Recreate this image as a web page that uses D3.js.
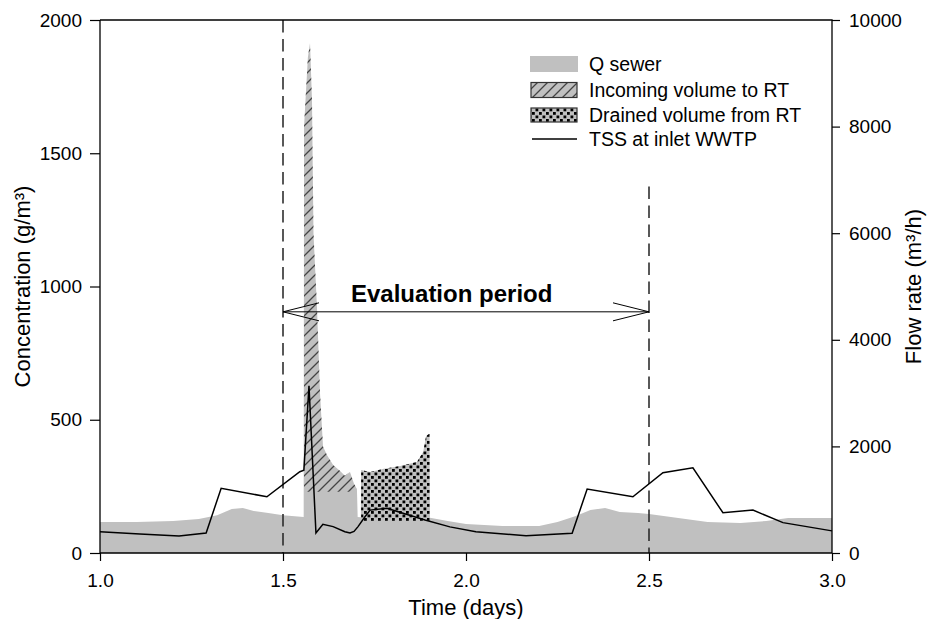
<!DOCTYPE html>
<html><head><meta charset="utf-8">
<script src="https://cdn.jsdelivr.net/npm/d3@7"></script>
<style>
body{margin:0;background:#fff}
text{font-family:"Liberation Sans",Arial,sans-serif;fill:#000}
</style>
</head><body>
<svg id="c" width="928" height="619"></svg>
<script>
// ---------- data ----------
const qSewerDays = [1.000,1.100,1.200,1.270,1.320,1.360,1.390,1.420,1.460,1.500,1.5565,
  1.5575,1.568,1.5738,1.5792,1.5833,1.5874,1.5929,1.6011,1.6093,1.620,1.637,1.656,1.669,1.683,1.694,1.702,
  1.704,1.7125,1.7135,1.738,1.773,1.820,1.866,1.883,1.891,1.899,1.9005,1.9015,
  1.950,2.000,2.100,2.200,2.250,2.300,2.340,2.380,2.420,2.470,2.500,2.580,2.660,2.750,2.820,2.880,3.000];
const qSewerFlow = [580,580,600,640,710,825,845,790,750,710,675,
  8000,9300,9570,8500,6000,5400,4600,3000,2000,1840,1650,1540,1450,1520,1300,1200,
  675,670,1557,1520,1576,1632,1707,1895,2195,2232,2232,660,
  600,545,505,505,580,695,805,845,770,750,730,655,580,565,600,655,655];

const incomingDays = [1.5575,1.568,1.5738,1.5792,1.5833,1.5874,1.5929,1.6011,1.6093,1.620,1.637,1.656,1.669,1.683,1.694,1.702];
const incomingFlow = [8000,9300,9570,8500,6000,5400,4600,3000,2000,1840,1650,1540,1450,1520,1300,1200];
const incomingBase = [1150,1150,1150,1150,1150,1150,1150,1150,1150,1150,1150,1150,1150,1150,1150,1150];

const drainedDays = [1.7135,1.738,1.773,1.820,1.866,1.883,1.891,1.899,1.9005];
const drainedFlow = [1557,1520,1576,1632,1707,1895,2195,2232,2232];
const drainedBase = [600,600,600,600,600,600,600,600,600];

const tssDays = [1.000,1.109,1.216,1.290,1.331,1.456,1.546,1.557,1.571,1.590,1.609,1.637,1.669,1.683,1.694,1.705,
  1.724,1.738,1.784,1.828,1.888,1.956,2.027,2.164,2.290,2.331,2.456,2.538,2.620,2.702,2.784,2.866,3.000];
const tssConc = [80,71,64,75,243,211,305,311,627,75,108,99,80,75,81,99,
  136,161,168,149,124,98,80,65,74,240,211,301,320,151,161,114,83];

const xTicks = [1.0,1.5,2.0,2.5,3.0];
const concTicks = [0,500,1000,1500,2000];
const flowTicks = [0,2000,4000,6000,8000,10000];
const evalPeriod = [1.5,2.5];
const evalLabel = "Evaluation period";
const legendLabels = ["Q sewer","Incoming volume to RT","Drained volume from RT","TSS at inlet WWTP"];

// ---------- layout ----------
const L = 100, R = 832, T = 20, B = 553;
const svg = d3.select("#c");
const x = d3.scaleLinear().domain([1,3]).range([L,R]);
const yC = d3.scaleLinear().domain([0,2000]).range([B,T]);
const yQ = d3.scaleLinear().domain([0,10000]).range([B,T]);
const GRAY = "#c0c0c0";

const defs = svg.append("defs");
const hp = defs.append("pattern").attr("id","hatch").attr("patternUnits","userSpaceOnUse")
  .attr("width",10).attr("height",10);
hp.append("path").attr("d","M0,10 L10,0 M-2,2 L2,-2 M8,12 L12,8")
  .attr("stroke","#444").attr("stroke-width",1.3);
const dp = defs.append("pattern").attr("id","dots").attr("patternUnits","userSpaceOnUse")
  .attr("width",7).attr("height",7);
dp.append("rect").attr("x",0).attr("y",0).attr("width",2.8).attr("height",2.8).attr("fill","#000");
dp.append("rect").attr("x",3.5).attr("y",3.5).attr("width",2.8).attr("height",2.8).attr("fill","#000");

// Q sewer area
const qData = qSewerDays.map((d,i)=>[d,qSewerFlow[i]]);
svg.append("path").datum(qData)
  .attr("d", d3.area().x(d=>x(d[0])).y0(yQ(0)).y1(d=>yQ(d[1])))
  .attr("fill",GRAY);

// incoming hatch
const incData = incomingDays.map((d,i)=>[d,incomingFlow[i],incomingBase[i]]);
svg.append("path").datum(incData)
  .attr("d", d3.area().x(d=>x(d[0])).y0(d=>yQ(d[2])).y1(d=>yQ(d[1])))
  .attr("fill","url(#hatch)");

// drained dots
const drData = drainedDays.map((d,i)=>[d,drainedFlow[i],drainedBase[i]]);
svg.append("path").datum(drData)
  .attr("d", d3.area().x(d=>x(d[0])).y0(d=>yQ(d[2])).y1(d=>yQ(d[1])))
  .attr("fill","url(#dots)");

// dashed evaluation lines
svg.append("line").attr("x1",x(evalPeriod[0])).attr("x2",x(evalPeriod[0]))
  .attr("y1",T).attr("y2",B).attr("stroke","#222").attr("stroke-width",1.5).attr("stroke-dasharray","12.5,6.5");
svg.append("line").attr("x1",x(evalPeriod[1])).attr("x2",x(evalPeriod[1]))
  .attr("y1",yC(1375)).attr("y2",B).attr("stroke","#222").attr("stroke-width",1.5).attr("stroke-dasharray","12.5,6.5");

// TSS line
svg.append("path").datum(tssDays.map((d,i)=>[d,tssConc[i]]))
  .attr("d", d3.line().x(d=>x(d[0])).y(d=>yC(d[1])))
  .attr("fill","none").attr("stroke","#000").attr("stroke-width",1.5);

// evaluation arrow
const ay = yC(905);
const ax0 = x(evalPeriod[0]), ax1 = x(evalPeriod[1]);
svg.append("line").attr("x1",ax0).attr("x2",ax1).attr("y1",ay).attr("y2",ay).attr("stroke","#000").attr("stroke-width",1);
svg.append("path").attr("d",`M${ax0+36},${ay-9} L${ax0},${ay} L${ax0+36},${ay+9}`).attr("fill","none").attr("stroke","#000");
svg.append("path").attr("d",`M${ax1-36},${ay-9} L${ax1},${ay} L${ax1-36},${ay+9}`).attr("fill","none").attr("stroke","#000");
svg.append("text").attr("x",351).attr("y",302).attr("font-size",24).attr("font-weight","bold").text(evalLabel);

// axes
const fmt1 = d3.format(".1f");
const fmtInt = d3.format("d");
const gx = svg.append("g").attr("transform",`translate(0,${B})`)
  .call(d3.axisBottom(x).tickValues(xTicks).tickFormat(fmt1).tickSize(8).tickPadding(13));
const gl = svg.append("g").attr("transform",`translate(${L},0)`)
  .call(d3.axisLeft(yC).tickValues(concTicks).tickFormat(fmtInt).tickSize(10).tickPadding(8));
const gr = svg.append("g").attr("transform",`translate(${R},0)`)
  .call(d3.axisRight(yQ).tickValues(flowTicks).tickFormat(fmtInt).tickSize(8).tickPadding(9));
[gx,gl,gr].forEach(g=>{
  g.select(".domain").remove();
  g.selectAll(".tick line").attr("stroke","#000").attr("stroke-width",1.2);
  g.selectAll(".tick text").attr("font-size",19).attr("font-family","Liberation Sans, Arial, sans-serif").attr("fill","#000");
});
// frame lines
svg.append("path").attr("d",`M${L},${T} L${L},${B} L${R},${B} L${R},${T} L${L},${T}`)
  .attr("fill","none").attr("stroke","#000").attr("stroke-width",1.3);

// axis titles
svg.append("text").attr("x",(L+R)/2).attr("y",615).attr("text-anchor","middle").attr("font-size",22).text("Time (days)");
svg.append("text").attr("transform",`translate(30,${(T+B)/2}) rotate(-90)`).attr("text-anchor","middle").attr("font-size",22).text("Concentration (g/m³)");
svg.append("text").attr("transform",`translate(921,${(T+B)/2}) rotate(-90)`).attr("text-anchor","middle").attr("font-size",22).text("Flow rate (m³/h)");

// legend
const lg = svg.append("g");
const rowsY = [64,90,115,139];
lg.append("rect").attr("x",530).attr("y",rowsY[0]-8).attr("width",48).attr("height",16).attr("fill",GRAY);
lg.append("rect").attr("x",531).attr("y",rowsY[1]-7.5).attr("width",46).attr("height",15).attr("fill",GRAY);
lg.append("rect").attr("x",531).attr("y",rowsY[1]-7.5).attr("width",46).attr("height",15).attr("fill","url(#hatch)").attr("stroke","#333").attr("stroke-width",1.2);
lg.append("rect").attr("x",531).attr("y",rowsY[2]-7).attr("width",46).attr("height",14).attr("fill",GRAY);
lg.append("rect").attr("x",531).attr("y",rowsY[2]-7).attr("width",46).attr("height",14).attr("fill","url(#dots)").attr("stroke","#333").attr("stroke-width",1.2);
lg.append("line").attr("x1",532).attr("x2",577).attr("y1",rowsY[3]).attr("y2",rowsY[3]).attr("stroke","#000").attr("stroke-width",1.3);
legendLabels.forEach((t,i)=>{
  lg.append("text").attr("x",589).attr("y",rowsY[i]+7).attr("font-size",19.5).text(t);
});
</script>
</body></html>
